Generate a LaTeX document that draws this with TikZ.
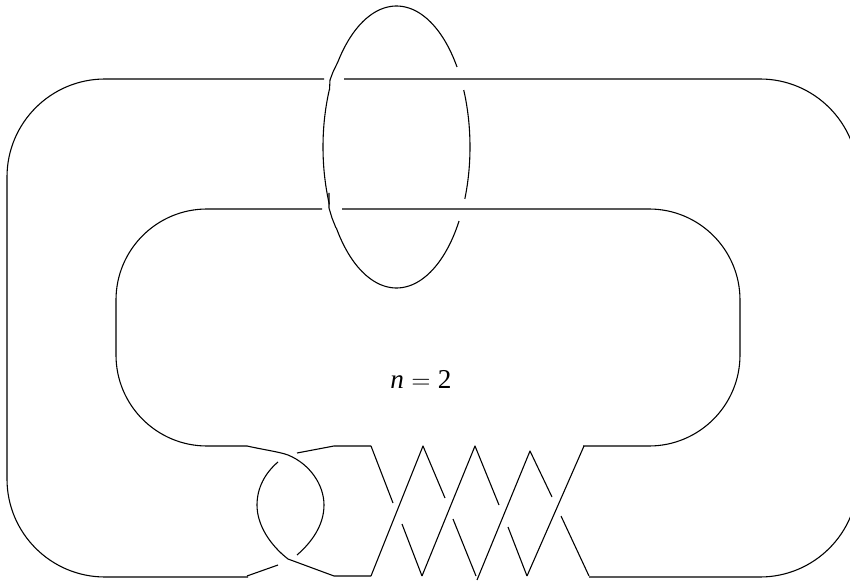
\documentclass[tikz,border=0pt]{standalone}
\usepackage{fontspec}
\setmainfont{Liberation Serif}
\usepackage{tikz}
\tikzset{
  strand/.style={line width=0.62pt, color=black, line join=round},
  outerloop/.style={strand, rounded corners=1.96cm},
  innerloop/.style={strand, rounded corners=1.82cm},
  labelnode/.style={font=\fontsize{15.5}{18}\selectfont, inner sep=0pt, anchor=base}
}
\begin{document}
\begin{tikzpicture}[x=0.02cm, y=-0.02cm]
  \useasboundingbox (0,0) rectangle (850,581);

  % Outer band
  \draw[outerloop] (344,79) -- (858,79) -- (858,577) -- (589,577);
  \draw[outerloop] (324,79) -- (7,79) -- (7,577) -- (248,577);

  % Inner band
  \draw[innerloop] (342,209) -- (740,209) -- (740,446) -- (583,446);
  \draw[innerloop] (322,209) -- (116,209) -- (116,446) -- (247,446);

  % Ring around the two bands
  \draw[strand] plot[domain=34.6:142.7, samples=60, smooth]
    ({396.5+73.5*cos(\x)}, {147-141*sin(\x)})
    -- (333,72) -- (330,80) -- (329.5,90);
  \draw[strand] plot[domain=156:204, samples=30, smooth]
    ({396.5+73.5*cos(\x)}, {147-141*sin(\x)});
  \draw[strand] (329,193) -- (329,208) -- (332,218) -- (336,228);
  \draw[strand] plot[domain=215:328.3, samples=60, smooth]
    ({396.5+73.5*cos(\x)}, {147-141*sin(\x)});
  \draw[strand] plot[domain=-21.6:23.8, samples=20, smooth]
    ({396.5+73.5*cos(\x)}, {147-141*sin(\x)});

  % Clasp
  \draw[strand] (247,446) .. controls (265,450) and (280,452) .. (288,455)
    .. controls (310,464) and (324,485) .. (324,505)
    .. controls (324,525) and (312,542) .. (297,555);
  \draw[strand] (297,453) -- (334,446) -- (371,446);
  \draw[strand] (278,462) .. controls (265,473) and (257,488) .. (257,505)
    .. controls (257,525) and (270,545) .. (288,559) -- (334,576) -- (371,576);
  \draw[strand] (278,565) -- (247,576);

  % Twist region
  \foreach \xa/\ya/\xb/\yb/\xc/\yc in {371/446/371/446/393/503,
      371/576/423/446/445/498, 422/576/475/446/499/505,
      477/580/530/451/552/497, 527/576/584/446/584/446} {
    \draw[strand] (\xa,\ya) -- (\xb,\yb) -- (\xc,\yc);
  }
  \foreach \xa/\xb/\ya in {402/422/524, 453/476/519, 508/527/527} {
    \draw[strand] (\xa,\ya) -- (\xb,576);
  }
  \draw[strand] (561,516) -- (589,576);

  % Label
  \node[labelnode] (framing) at (421,389) {\textit{n}\hspace{0.27em}$=$\hspace{0.27em}2};
\end{tikzpicture}
\end{document}
